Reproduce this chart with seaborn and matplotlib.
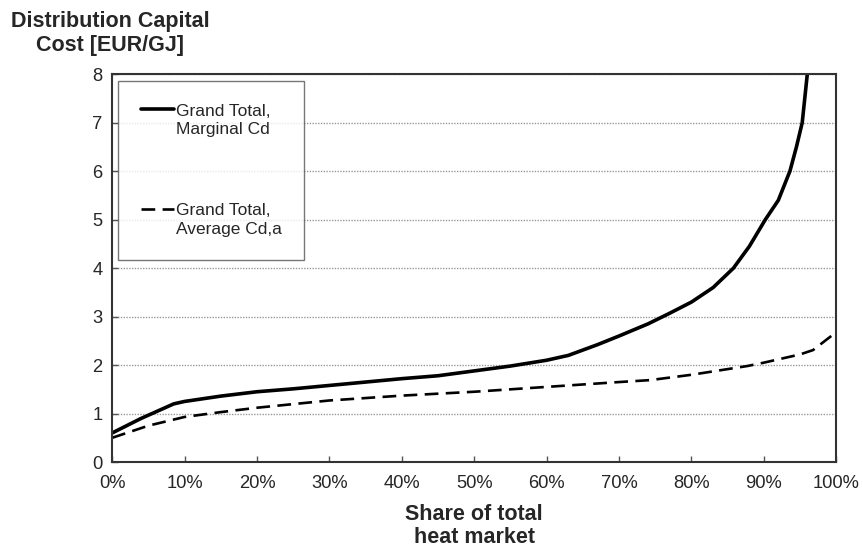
import numpy as np
import pandas as pd
import matplotlib
matplotlib.use("Agg")
import matplotlib.pyplot as plt
from matplotlib.legend_handler import HandlerLine2D
import seaborn as sns

# values (share of heat market in %, cost in EUR/GJ)
share_marginal = [0, 4, 8.5, 10, 15, 20, 25, 30, 35, 40, 45, 50, 55, 60, 63,
                  67, 70, 74, 77, 80, 83, 85.8, 88, 90.2, 92, 93.6, 94.5, 95.3, 96]
cost_marginal = [0.6, 0.9, 1.2, 1.25, 1.36, 1.45, 1.51, 1.58, 1.65, 1.72, 1.78, 1.88,
                 1.98, 2.1, 2.2, 2.42, 2.6, 2.85, 3.07, 3.3, 3.6, 4.0, 4.45, 5.0,
                 5.4, 6.0, 6.5, 7.0, 8.0]

share_average = [0, 5, 10, 15, 20, 30, 40, 50, 60, 70, 74.3, 80, 87.7, 90, 95, 96.8, 100]
cost_average = [0.5, 0.75, 0.93, 1.03, 1.12, 1.27, 1.37, 1.45, 1.55, 1.65, 1.69, 1.8,
                1.98, 2.05, 2.22, 2.31, 2.68]

label_marginal = "Grand Total,\nMarginal Cd"
label_average = "Grand Total,\nAverage Cd,a"

df_m = pd.DataFrame({"share": share_marginal, "cost": cost_marginal})
df_a = pd.DataFrame({"share": share_average, "cost": cost_average})


# legend handle sits on the first text line, not in the middle of the two lines
class FirstLineHandler(HandlerLine2D):
    def create_artists(self, legend, orig_handle, xdescent, ydescent, width, height, fontsize, trans):
        artists = super().create_artists(legend, orig_handle, xdescent, ydescent,
                                         width, height, fontsize, trans)
        for a in artists:
            a.set_ydata(np.asarray(a.get_ydata()) + fontsize * 0.65)
        return artists


sns.set_style("white")
plt.rcParams['font.family'] = ['Liberation Sans', 'DejaVu Sans']

fig = plt.figure(figsize=(8.63, 5.54), dpi=100)
ax = fig.add_axes([0.13, 0.166, 0.839, 0.70])

sns.lineplot(data=df_m, x="share", y="cost", ax=ax, color="black", linewidth=2.6,
             label=label_marginal, estimator=None, sort=False)
sns.lineplot(data=df_a, x="share", y="cost", ax=ax, color="black", linewidth=1.9,
             linestyle=(0, (5.2, 2.8)), label=label_average, estimator=None, sort=False)

ax.set_xlim(0, 100)
ax.set_ylim(0, 8)
ax.set_xticks(np.arange(0, 101, 10))
ax.set_xticklabels([f"{v}%" for v in range(0, 101, 10)], fontsize=13.2)
ax.set_yticks(range(0, 9))
ax.set_yticklabels([str(v) for v in range(0, 9)], fontsize=13.2)
ax.yaxis.grid(True, color="#999999", linestyle=(0, (1, 1)), linewidth=1.0)
ax.xaxis.grid(False)
ax.tick_params(axis="y", direction="in", length=4.5, width=1, color="#555555", left=True, pad=7)
ax.tick_params(axis="x", direction="in", length=4.5, width=1, color="#555555", bottom=True, pad=9)
for s in ax.spines.values():
    s.set_color("#333333")
    s.set_linewidth(1.5)

ax.set_xlabel("Share of total\nheat market", fontsize=15.5, fontweight="bold", labelpad=9,
              linespacing=1.15)
ax.set_ylabel("")

fig.text(0.128, 0.939, "Distribution Capital\nCost [EUR/GJ]", ha="center", va="center",
         fontsize=15.5, fontweight="bold", linespacing=1.2)

leg = ax.legend(loc="upper left", bbox_to_anchor=(0.008, 0.982), fontsize=12.5,
                frameon=True, fancybox=False, handlelength=1.95, handletextpad=0.08,
                labelspacing=3.8, borderpad=1.3, borderaxespad=0.0,
                handler_map={matplotlib.lines.Line2D: FirstLineHandler()})
for t in leg.get_texts():
    t.set_linespacing(1.3)
leg.get_frame().set_edgecolor("#555555")
leg.get_frame().set_linewidth(1.0)

fig.savefig("out.png", dpi=100)
